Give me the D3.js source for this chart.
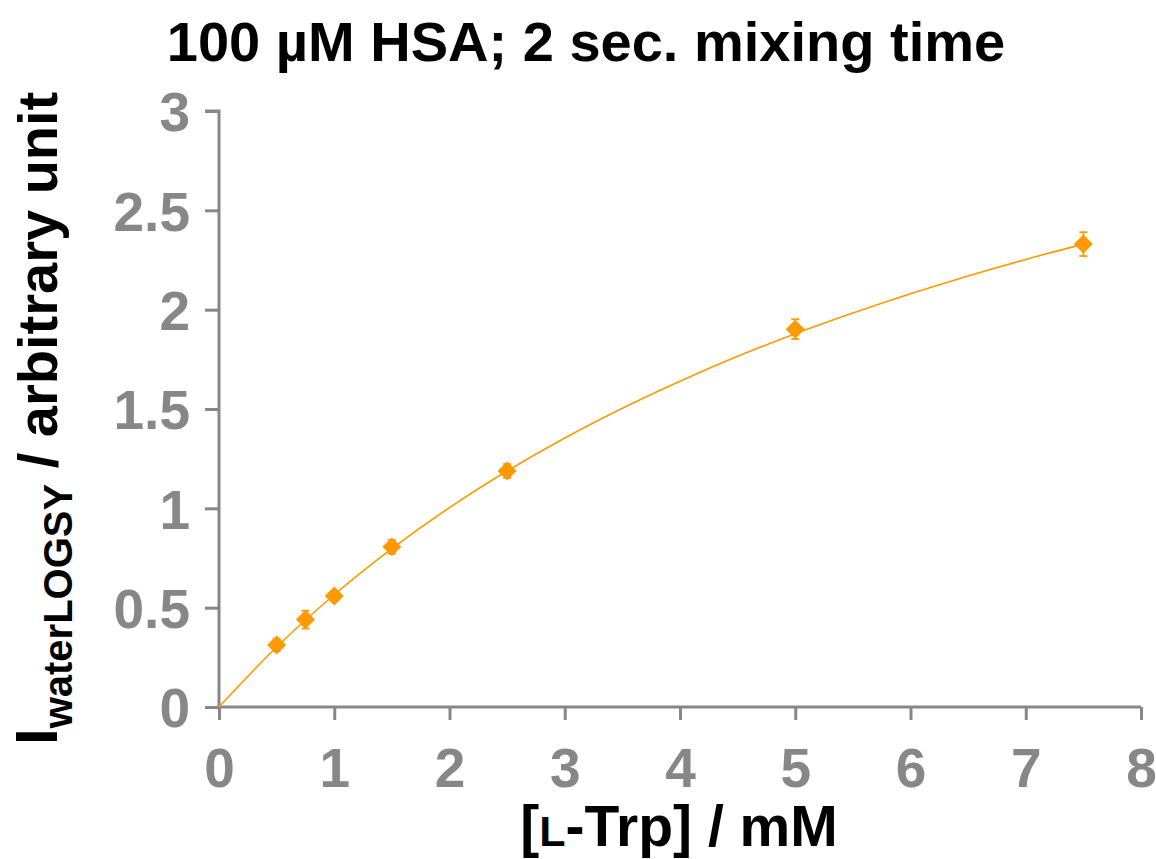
<!DOCTYPE html>
<html><head><meta charset="utf-8">
<script src="https://cdn.jsdelivr.net/npm/d3@7"></script>
<style>
html,body{margin:0;padding:0;background:#fff;}
svg{display:block;font-family:"Liberation Sans",Arial,sans-serif;}
</style></head>
<body>
<svg id="chart" width="1156" height="859"></svg>
<script>
// Data
const conc = [0.5, 0.75, 1, 1.5, 2.5, 5, 7.5];
const intensity = [0.312, 0.440, 0.559, 0.806, 1.188, 1.902, 2.330];
const errors = [0.03, 0.045, 0.025, 0.035, 0.035, 0.05, 0.06];
const fitX = [0, 0.5, 1, 1.5, 2, 2.5, 3, 3.5, 4, 4.5, 5, 5.5, 6, 6.5, 7, 7.5];
const fitY = [0, 0.302, 0.565, 0.797, 1.004, 1.188, 1.354, 1.504, 1.640, 1.765, 1.879, 1.983, 2.080, 2.170, 2.253, 2.330];
const xTicks = [0, 1, 2, 3, 4, 5, 6, 7, 8];
const yTicks = [0, 0.5, 1, 1.5, 2, 2.5, 3];
const yTickLabels = ["0", "0.5", "1", "1.5", "2", "2.5", "3"];

const svg = d3.select("#chart");
const axisColor = "#878787";
const orange = "#FF9900";

const x = d3.scaleLinear().domain([0, 8]).range([219, 1141]);
const y = d3.scaleLinear().domain([0, 3]).range([707, 111]);

// Title
svg.append("text").attr("x", 586).attr("y", 61).attr("text-anchor", "middle")
  .attr("font-size", 56).attr("font-weight", "bold").attr("fill", "#000")
  .text("100 µM HSA; 2 sec. mixing time");

// Y axis
const yAxis = d3.axisLeft(y).tickValues(yTicks).tickSize(14).tickPadding(15)
  .tickFormat((d, i) => yTickLabels[i]);
const gy = svg.append("g").attr("transform", `translate(${x(0)},0)`).call(yAxis);
gy.select(".domain").attr("stroke", axisColor).attr("stroke-width", 3).attr("d", `M-14,${y(3)}H0V${y(0)}`);
gy.selectAll(".tick line").attr("stroke", axisColor).attr("stroke-width", 3);
gy.selectAll(".tick text").attr("fill", axisColor).attr("font-size", 55).attr("font-weight", "bold")
  .attr("font-family", "Liberation Sans, Arial, sans-serif").attr("dy", "0.36em");

// X axis
const xAxis = d3.axisBottom(x).tickValues(xTicks).tickSize(13).tickPadding(28).tickFormat(d3.format("d"));
const gx = svg.append("g").attr("transform", `translate(0,${y(0)})`).call(xAxis);
gx.select(".domain").attr("stroke", axisColor).attr("stroke-width", 3).attr("d", `M${x(0)},0H${x(8)}`);
gx.selectAll(".tick line").attr("stroke", axisColor).attr("stroke-width", 3);
gx.selectAll(".tick text").attr("fill", axisColor).attr("font-size", 55).attr("font-weight", "bold")
  .attr("font-family", "Liberation Sans, Arial, sans-serif").attr("dy", "0.71em");

// Fit curve
const line = d3.line().x((d, i) => x(fitX[i])).y(d => y(d)).curve(d3.curveMonotoneX);
svg.append("path").attr("d", line(fitY)).attr("fill", "none").attr("stroke", orange).attr("stroke-width", 1.6);

// Error bars
const eb = svg.append("g").attr("stroke", orange).attr("stroke-width", 1.8);
conc.forEach((c, i) => {
  const cx = x(c), top = y(intensity[i] + errors[i]), bot = y(intensity[i] - errors[i]);
  eb.append("line").attr("x1", cx).attr("x2", cx).attr("y1", top).attr("y2", bot);
  eb.append("line").attr("x1", cx - 4).attr("x2", cx + 4).attr("y1", top).attr("y2", top);
  eb.append("line").attr("x1", cx - 4).attr("x2", cx + 4).attr("y1", bot).attr("y2", bot);
});

// Markers (diamonds)
const sym = d3.symbol().type(d3.symbolDiamond2).size(230);
svg.append("g").selectAll("path").data(intensity).join("path")
  .attr("transform", (d, i) => `translate(${x(conc[i])},${y(d)})`)
  .attr("d", sym).attr("fill", orange);

// X axis label
const xl = svg.append("text").attr("x", 679).attr("y", 846).attr("text-anchor", "middle")
  .attr("font-size", 57).attr("font-weight", "bold").attr("fill", "#000");
xl.append("tspan").text("[");
xl.append("tspan").attr("font-size", 43).text("L");
xl.append("tspan").text("-Trp] / mM");

// Y axis label
const yl = svg.append("text").attr("transform", "translate(57,745) rotate(-90)")
  .attr("font-size", 56).attr("font-weight", "bold").attr("fill", "#000");
yl.append("tspan").attr("font-size", 60).text("I");
yl.append("tspan").attr("font-size", 40).attr("dy", 15).text("waterLOGSY");
yl.append("tspan").attr("dy", -15).text(" / arbitrary unit");
</script>
</body></html>
